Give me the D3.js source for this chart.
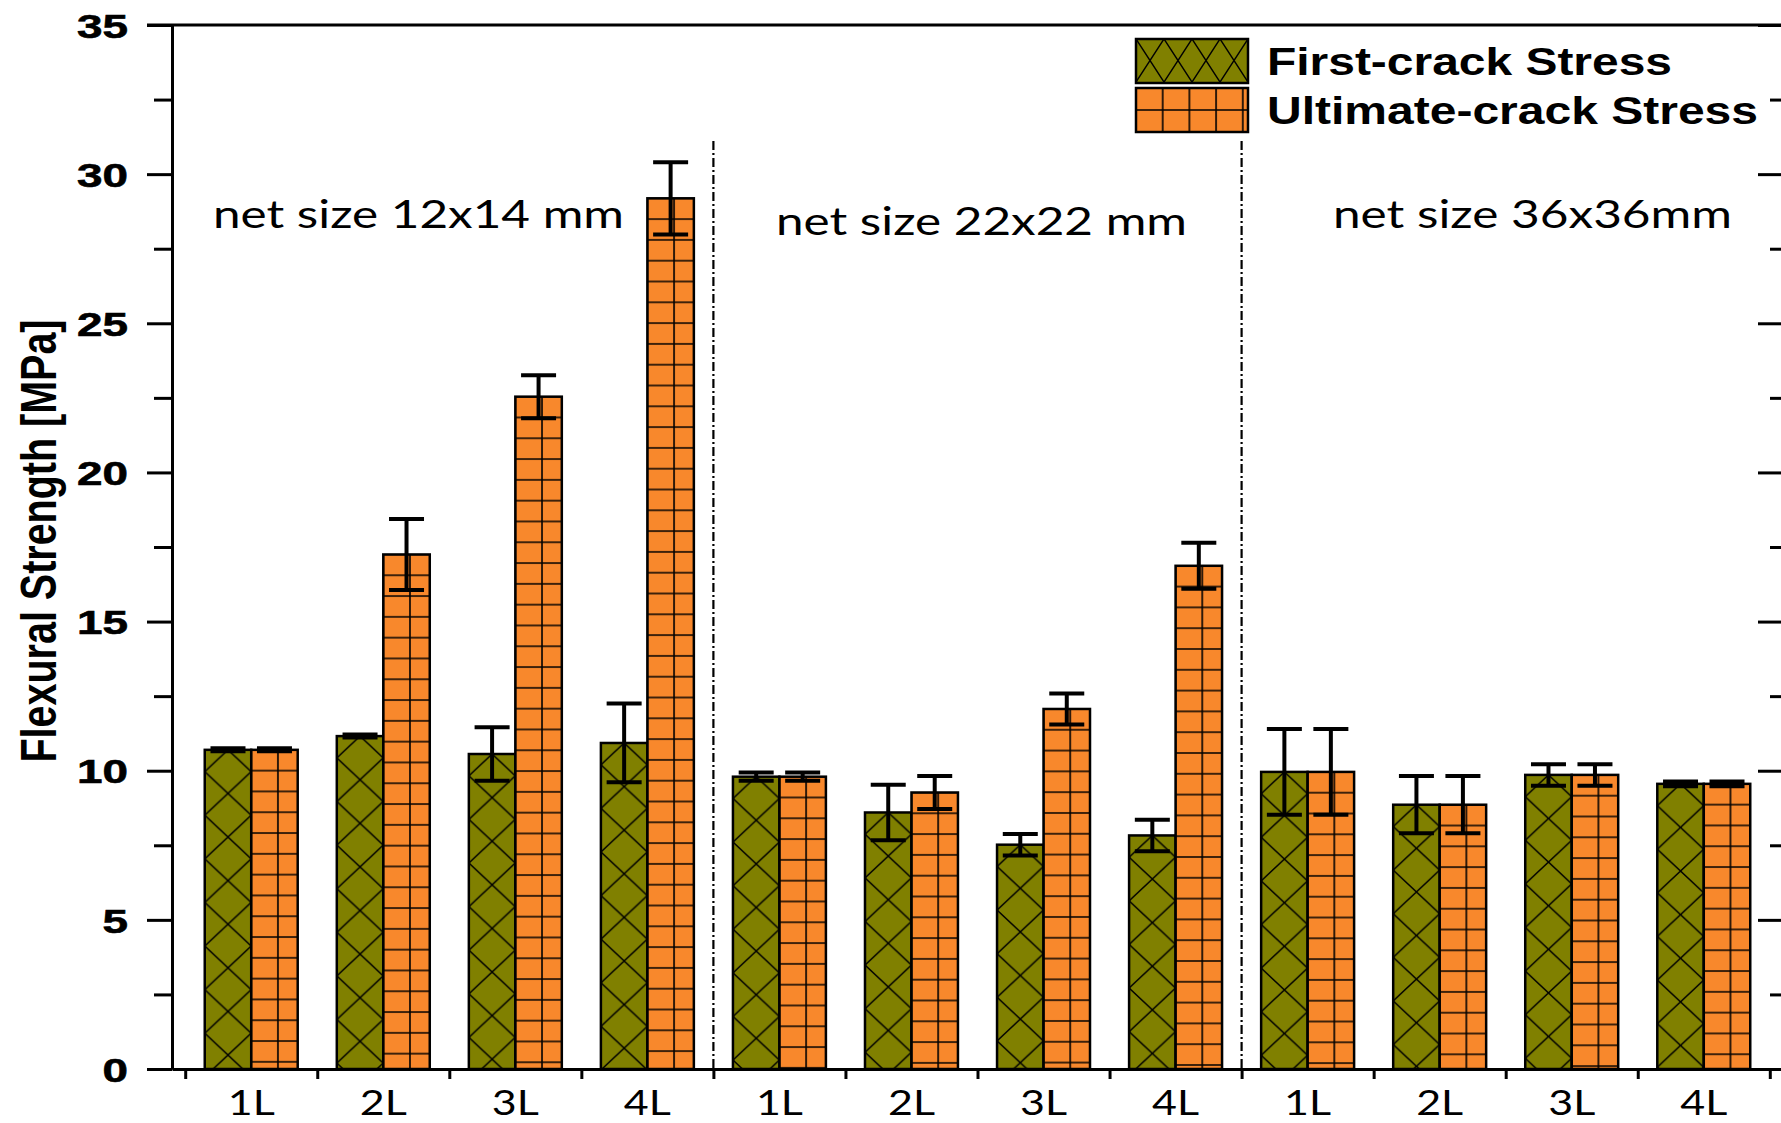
<!DOCTYPE html>
<html>
<head>
<meta charset="utf-8">
<title>Flexural Strength by mesh size and layers</title>
<script src="https://cdn.jsdelivr.net/npm/d3@7"></script>
<style>
  html, body { margin: 0; padding: 0; background: #ffffff; }
  svg { display: block; }
</style>
</head>
<body>
<svg id="chart" width="1781" height="1123"></svg>
<script>
// ---- data ----
const categories = ["1L", "2L", "3L", "4L", "1L", "2L", "3L", "4L", "1L", "2L", "3L", "4L"];
const meshLabels = ["net size 12x14 mm", "net size 22x22 mm", "net size 36x36mm"];
const seriesNames = ["First-crack Stress", "Ultimate-crack Stress"];
const firstCrack      = [10.70, 11.16, 10.56, 10.93, 9.80, 8.60, 7.52, 7.83, 9.96, 8.86, 9.86, 9.56];
const firstCrackErr   = [0.05, 0.05, 0.90, 1.32, 0.14, 0.93, 0.36, 0.53, 1.44, 0.96, 0.36, 0.08];
const ultimateCrack   = [10.70, 17.25, 22.54, 29.19, 9.80, 9.27, 12.07, 16.87, 9.96, 8.86, 9.86, 9.56];
const ultimateCrackErr= [0.05, 1.19, 0.72, 1.21, 0.14, 0.55, 0.52, 0.77, 1.44, 0.96, 0.36, 0.08];
const yMajorTicks = [0, 5, 10, 15, 20, 25, 30, 35];
const yMinorTicks = [2.5, 7.5, 12.5, 17.5, 22.5, 27.5, 32.5];
const groupBoundaries = [4.5, 8.5];

// ---- styling ----
const olive = "#808000";
const orange = "#F8882C";
const axisWidth = 3;

const svg = d3.select("#chart");

// ---- scales ----
const x = d3.scaleLinear().domain([0.4, 12.6]).range([172, 1783]);
const y = d3.scaleLinear().domain([0, 35]).range([1069, 25]);
const unit = x(2) - x(1);
const bw = unit * 0.352;           // width of one bar; the pair sits centred on the category

// ---- fill patterns ----
const defs = svg.append("defs");

function crossHatch(id, w, h, yOffset) {
  const p = defs.append("pattern").attr("id", id)
    .attr("patternUnits", "userSpaceOnUse")
    .attr("width", w).attr("height", h).attr("y", yOffset);
  p.append("rect").attr("width", w).attr("height", h).attr("fill", olive);
  p.append("path")
    .attr("d", `M${-w},${-h}L${2 * w},${2 * h}M${2 * w},${-h}L${-w},${2 * h}`)
    .attr("stroke", "#000").attr("stroke-width", 1.5).attr("fill", "none");
}
function grid(id, w, h) {
  const p = defs.append("pattern").attr("id", id)
    .attr("patternUnits", "userSpaceOnUse")
    .attr("width", w).attr("height", h);
  p.append("rect").attr("width", w).attr("height", h).attr("fill", orange);
  p.append("path")
    .attr("d", `M0,0H${w}M0,${h}H${w}M0,0V${h}M${w},0V${h}`)
    .attr("stroke", "#000").attr("stroke-width", 1.6).attr("fill", "none");
}
const crossH = 43.6;
crossHatch("cross-bar", bw, crossH, crossH / 2);
grid("grid-bar", 26.7, 20.8);
crossHatch("cross-legend", 28, 43, 0);
grid("grid-legend", 26.7, 22);

// ---- axes ----
const axes = svg.append("g").attr("class", "axes");

// left axis: major ticks with labels, then minor ticks
const leftMajor = d3.axisLeft(y).tickValues(yMajorTicks).tickSize(25).tickSizeOuter(0)
  .tickPadding(19).tickFormat(d3.format("d"));
const leftMinor = d3.axisLeft(y).tickValues(yMinorTicks).tickSize(18).tickSizeOuter(0).tickFormat("");
const gLeft = axes.append("g").attr("transform", `translate(${x(0.4)},0)`).call(leftMajor);
axes.append("g").attr("transform", `translate(${x(0.4)},0)`).call(leftMinor);
gLeft.selectAll("text")
  .attr("font-family", "'Liberation Sans', Arial, sans-serif")
  .attr("font-weight", "bold")
  .attr("font-size", 34)
  .attr("fill", "#000")
  .attr("stroke", "#000").attr("stroke-width", 0.6)
  .attr("dy", "0.36em")
  .attr("textLength", d => String(d).length * 25.5)
  .attr("lengthAdjust", "spacingAndGlyphs");

// right axis: ticks pointing into the plot
const rightMajor = d3.axisLeft(y).tickValues(yMajorTicks).tickSize(25).tickSizeOuter(0).tickFormat("");
const rightMinor = d3.axisLeft(y).tickValues(yMinorTicks).tickSize(13).tickSizeOuter(0).tickFormat("");
axes.append("g").attr("transform", `translate(${x(12.6)},0)`).call(rightMajor);
axes.append("g").attr("transform", `translate(${x(12.6)},0)`).call(rightMinor);

// bottom axis: ticks between the categories
const bottom = d3.axisBottom(x).tickValues(d3.range(0.5, 13, 1)).tickSize(10).tickSizeOuter(0).tickFormat("");
axes.append("g").attr("transform", `translate(0,${y(0)})`).call(bottom);

// top frame
axes.append("line")
  .attr("x1", x(0.4) - 25).attr("x2", x(12.6))
  .attr("y1", y(35)).attr("y2", y(35));

axes.selectAll("path.domain, line")
  .attr("stroke", "#000").attr("stroke-width", axisWidth);
axes.selectAll(".tick line").attr("stroke-width", axisWidth);

// category labels
svg.append("g").selectAll("text").data(categories).join("text")
  .attr("x", (d, i) => x(i + 1))
  .attr("y", 1115)
  .attr("text-anchor", "middle")
  .attr("font-family", "Lato, 'Open Sans', sans-serif")
  .attr("font-size", 35)
  .attr("fill", "#000")
  .attr("textLength", 47)
  .attr("lengthAdjust", "spacingAndGlyphs")
  .text(d => d);

// y axis title
svg.append("text")
  .attr("transform", "translate(56,541) rotate(-90)")
  .attr("text-anchor", "middle")
  .attr("font-family", "'Liberation Sans', Arial, sans-serif")
  .attr("font-weight", "bold")
  .attr("font-size", 50)
  .attr("textLength", 443)
  .attr("lengthAdjust", "spacingAndGlyphs")
  .attr("fill", "#000")
  .text("Flexural Strength [MPa]");

// ---- group separators ----
svg.append("g").selectAll("line").data(groupBoundaries).join("line")
  .attr("x1", d => x(d)).attr("x2", d => x(d))
  .attr("y1", 141).attr("y2", y(0))
  .attr("stroke", "#000").attr("stroke-width", 2.2)
  .attr("stroke-dasharray", "9,3,2,3");

// ---- mesh size annotations ----
const meshPos = [[418.5, 228], [981.5, 235], [1532.5, 228]];
const meshWidths = [411, 411, 399];
svg.append("g").selectAll("text").data(meshLabels).join("text")
  .attr("x", (d, i) => meshPos[i][0])
  .attr("y", (d, i) => meshPos[i][1])
  .attr("text-anchor", "middle")
  .attr("font-family", "Lato, 'Open Sans', sans-serif")
  .attr("font-size", 39)
  .attr("fill", "#000")
  .attr("textLength", (d, i) => meshWidths[i])
  .attr("lengthAdjust", "spacingAndGlyphs")
  .text(d => d);

// ---- bars ----
const series = [
  { values: firstCrack, errors: firstCrackErr, fill: "url(#cross-bar)", offset: -bw },
  { values: ultimateCrack, errors: ultimateCrackErr, fill: "url(#grid-bar)", offset: 0 }
];

const barsLayer = svg.append("g").attr("class", "bars");
series.forEach(s => {
  const g = barsLayer.append("g");
  const bars = g.selectAll("g").data(s.values).join("g")
    .attr("transform", (d, i) => `translate(${x(i + 1) + s.offset},${y(d)})`);
  bars.append("rect")
    .attr("x", 0).attr("y", 0)
    .attr("width", bw)
    .attr("height", d => y(0) - y(d))
    .attr("fill", s.fill)
    .attr("stroke", "#000").attr("stroke-width", 2.5);
});

// ---- error bars ----
const errLayer = svg.append("g").attr("class", "errors")
  .attr("stroke", "#000").attr("stroke-width", 4).attr("fill", "none");
const capHalf = 17.5;
series.forEach(s => {
  s.values.forEach((v, i) => {
    const cx = x(i + 1) + s.offset + bw / 2;
    const hi = y(v + s.errors[i]);
    const lo = y(v - s.errors[i]);
    errLayer.append("line").attr("x1", cx).attr("x2", cx).attr("y1", hi).attr("y2", lo);
    errLayer.append("line").attr("x1", cx - capHalf).attr("x2", cx + capHalf).attr("y1", hi).attr("y2", hi);
    errLayer.append("line").attr("x1", cx - capHalf).attr("x2", cx + capHalf).attr("y1", lo).attr("y2", lo);
  });
});

// ---- legend ----
const legend = svg.append("g").attr("class", "legend");
const legendItems = [
  { name: seriesNames[0], fill: "url(#cross-legend)", top: 39, width: 405 },
  { name: seriesNames[1], fill: "url(#grid-legend)", top: 88, width: 491 }
];
legendItems.forEach(item => {
  legend.append("g").attr("transform", `translate(1136,${item.top})`)
    .append("rect")
    .attr("width", 112).attr("height", 44)
    .attr("fill", item.fill)
    .attr("stroke", "#000").attr("stroke-width", 2.5);
  legend.append("text")
    .attr("x", 1267).attr("y", item.top + 36)
    .attr("font-family", "'Liberation Sans', Arial, sans-serif")
    .attr("font-weight", "bold")
    .attr("font-size", 39)
    .attr("fill", "#000")
    .attr("textLength", item.width)
    .attr("lengthAdjust", "spacingAndGlyphs")
    .text(item.name);
});
</script>
</body>
</html>
